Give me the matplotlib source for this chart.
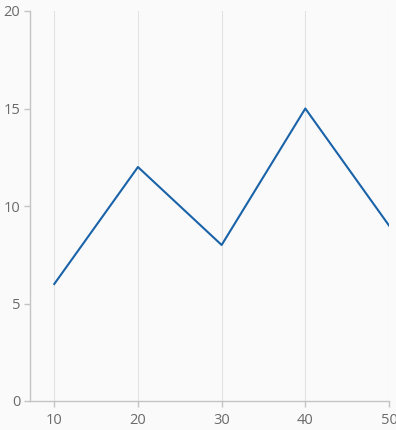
import matplotlib.pyplot as plt

# data
x_values = [10, 20, 30, 40, 50]
y_values = [6, 12, 8, 15, 9]
x_ticks = [10, 20, 30, 40, 50]
y_ticks = [0, 5, 10, 15, 20]

plt.rcParams['font.family'] = ['Open Sans', 'DejaVu Sans']

fig = plt.figure(figsize=(3.96, 4.30), dpi=100, facecolor='#fafafa')
ax = fig.add_axes([30/396, 29/430, 359/396, 390/430])
ax.set_facecolor('#fafafa')

ax.plot(x_values, y_values, color='#1a63a8', linewidth=1.5)

ax.set_xlim(7.1, 50)
ax.set_ylim(0, 20)
ax.set_xticks(x_ticks)
ax.set_yticks(y_ticks)
ax.grid(axis='x', color='#e2e2e2', linewidth=0.8)
ax.set_axisbelow(True)

for s in ['top', 'right']:
    ax.spines[s].set_visible(False)
for s in ['left', 'bottom']:
    ax.spines[s].set_color('#c4c4c4')
    ax.spines[s].set_linewidth(1)

ax.tick_params(colors='#c4c4c4', labelcolor='#6a6a6a', labelsize=10.5,
               length=4, width=1)
ax.tick_params(axis='x', pad=5)
ax.tick_params(axis='y', pad=3)

fig.savefig('out.png', dpi=100, facecolor='#fafafa')
